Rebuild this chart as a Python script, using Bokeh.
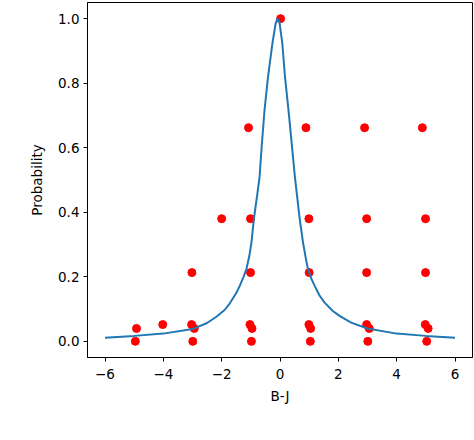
from bokeh.plotting import figure
from bokeh.models import FixedTicker, Range1d
from bokeh.embed import file_html
from bokeh.resources import INLINE

# Curve
curve_x = [-6.0, -5.0, -4.0, -3.0, -2.5, -2.17, -1.89, -1.72, -1.5, -1.38, -1.25, -1.15,
           -1.05, -0.98, -0.89, -0.78, -0.70, -0.62, -0.53, -0.41, -0.26, -0.15, -0.09,
           -0.02, 0.08, 0.17, 0.29, 0.40, 0.51, 0.58, 0.67, 0.79, 0.88, 0.96, 1.07, 1.19,
           1.35, 1.53, 1.80, 2.04, 2.44, 3.0, 4.0, 5.0, 6.0]
curve_y = [0.011, 0.017, 0.024, 0.038, 0.057, 0.077, 0.098, 0.118, 0.150, 0.172, 0.200, 0.225,
           0.265, 0.306, 0.383, 0.455, 0.510, 0.614, 0.717, 0.820, 0.923, 0.985, 1.0,
           0.99, 0.923, 0.820, 0.717, 0.614, 0.510, 0.455, 0.383, 0.306, 0.260, 0.223, 0.195, 0.172,
           0.143, 0.120, 0.095, 0.079, 0.058, 0.040, 0.024, 0.017, 0.011]

# Samples
pts_x = [0.02,
         -1.08, 0.89, 2.90, 4.88,
         -2.0, -1.01, 0.99, 2.97, 4.99,
         -3.02, -1.01, 1.0, 2.97, 4.99,
         -4.02, -3.03, -1.03, 0.99, 2.97, 4.98,
         -4.92, -2.94, -0.96, 1.05, 3.06, 5.08,
         -4.96, -2.99, -0.98, 1.04, 3.01, 5.03]
pts_y = [1.0,
         0.662, 0.662, 0.662, 0.662,
         0.38, 0.38, 0.38, 0.38, 0.38,
         0.213, 0.213, 0.213, 0.213, 0.213,
         0.052, 0.052, 0.052, 0.052, 0.052, 0.052,
         0.040, 0.040, 0.040, 0.040, 0.040, 0.040,
         0.0, 0.0, 0.0, 0.0, 0.0, 0.0]

x_ticks = [-6, -4, -2, 0, 2, 4, 6]
y_ticks = [0.0, 0.2, 0.4, 0.6, 0.8, 1.0]

p = figure(width=474, height=440, output_backend="svg", toolbar_location=None,
           x_range=Range1d(-6.6, 6.6), y_range=Range1d(-0.05, 1.05),
           min_border_left=87, min_border_right=2, min_border_top=2, min_border_bottom=83)

p.scatter(pts_x, pts_y, size=8, color="red", line_color="red")
p.line(curve_x, curve_y, line_color="#1f77b4", line_width=2)

p.xgrid.visible = False
p.ygrid.visible = False
p.outline_line_color = "black"
p.outline_line_width = 1
p.background_fill_color = "white"
p.border_fill_color = "white"

p.xaxis.ticker = FixedTicker(ticks=x_ticks)
p.yaxis.ticker = FixedTicker(ticks=y_ticks)
p.xaxis.major_label_overrides = {t: ("\u2212" + str(abs(t)) if t < 0 else str(t)) for t in x_ticks}
p.yaxis.major_label_overrides = {t: "%.1f" % t for t in y_ticks}
p.xaxis.axis_label = "B-J"
p.yaxis.axis_label = "Probability"

for ax in (p.xaxis[0], p.yaxis[0]):
    ax.major_label_text_font = "DejaVu Sans"
    ax.major_label_text_font_size = "13.5px"
    ax.major_label_text_color = "black"
    ax.axis_label_text_font = "DejaVu Sans"
    ax.axis_label_text_font_size = "13.5px"
    ax.axis_label_text_font_style = "normal"
    ax.axis_label_text_color = "black"
    ax.minor_tick_line_color = None
    ax.major_tick_out = 4
    ax.major_tick_in = 0
    ax.major_tick_line_color = "black"
    ax.axis_line_color = "black"

p.xaxis[0].major_label_standoff = 7
p.xaxis[0].axis_label_standoff = 6
p.yaxis[0].major_label_standoff = 4
p.yaxis[0].axis_label_standoff = 10

open("out.html", "w").write(file_html(p, INLINE))
